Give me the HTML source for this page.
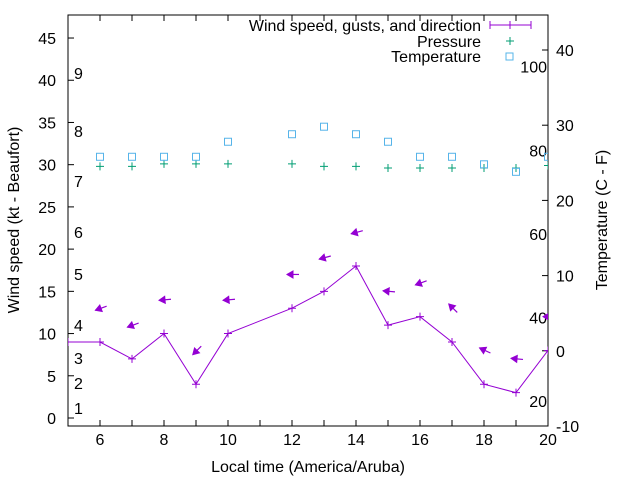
<!DOCTYPE html>
<html><head><meta charset="utf-8"><style>
body{margin:0;background:#fff}
svg text{font-family:"Liberation Sans",sans-serif;font-size:16px;fill:#000}
</style></head><body>
<svg width="640" height="480">
<defs><clipPath id="cp"><rect x="68" y="15" width="480" height="411"/></clipPath></defs>
<g id="axes"></g>
<g id="plot" clip-path="url(#cp)"></g>
<g id="legend">
<text x="481" y="31" text-anchor="end">Wind speed, gusts, and direction</text>
<line x1="490" y1="25" x2="531" y2="25" stroke="#9400d3"/>
<path d="M490 21v8M531 21v8M510 21v8" stroke="#9400d3"/>
<text x="481" y="47" text-anchor="end">Pressure</text>
<path d="M506 41h8M510 37v8" stroke="#009e73"/>
<text x="481" y="62" text-anchor="end">Temperature</text>
<rect x="506" y="53" width="7" height="7" fill="none" stroke="#56b4e9"/>
</g>
</svg>
<script>
const hours=[5,6,7,8,9,10,12,13,14,15,16,17,18,19,20];
const speed=[9,9,7,10,4,10,13,15,18,11,12,9,4,3,8];
const gusts=[null,13,11,14,8,14,17,19,22,15,16,13,8,7,12];
const dirFrom=[null,70,70,85,45,85,90,75,75,95,70,135,115,95,90];
const pressHours=[6,7,8,9,10,12,13,14,15,16,17,18,19,20];
const pressure=[29.8,29.8,30.1,30.1,30.1,30.1,29.8,29.8,29.6,29.6,29.6,29.6,29.6,29.9];
const tempHours=[6,7,8,9,10,12,13,14,15,16,17,18,19,20];
const temperature=[25.8,25.8,25.8,25.8,27.8,28.8,29.8,28.8,27.8,25.8,25.8,24.8,23.8,25.8];
const xTicks=[6,8,10,12,14,16,18,20];
const yTicks=[0,5,10,15,20,25,30,35,40,45];
const y2Ticks=[-10,0,10,20,30,40];
const beaufort=[[1,408],[2,383],[3,358],[4,325],[5,274],[6,232],[7,181],[8,131],[9,73]];
const fahr=[20,40,60,80,100];

const NS='http://www.w3.org/2000/svg';
const X=v=>68+(v-5)*32;
const Y=v=>418-v*8.444;
const Y2=v=>350.8-v*7.52;
function mk(p,tag,at){const e=document.createElementNS(NS,tag);for(const k in at)e.setAttribute(k,at[k]);p.appendChild(e);return e;}
const ax=document.getElementById('axes'),pl=document.getElementById('plot');
const border=mk(ax,'rect',{x:68,y:15,width:480,height:411,fill:'none',stroke:'#000'});


xTicks.forEach(t=>{const x=X(t);
 mk(ax,'path',{d:`M${x} 426v-6M${x} 15v6`,stroke:'#000'});
 const tx=mk(ax,'text',{x:x,y:445,'text-anchor':'middle'});tx.textContent=t;
 
 });
[7,9,11,13,15,17,19].forEach(t=>mk(ax,'path',{d:`M${X(t)} 426v-6M${X(t)} 15v6`,stroke:'#000'}));
yTicks.forEach(t=>{const y=Y(t);
 mk(ax,'path',{d:`M68 ${y}h6`,stroke:'#000'});
 const tx=mk(ax,'text',{x:56,y:y+6,'text-anchor':'end'});tx.textContent=t;
 
 });
y2Ticks.forEach(t=>{const y=Y2(t);
 mk(ax,'path',{d:`M548 ${y}h-6`,stroke:'#000'});
 const tx=mk(ax,'text',{x:556,y:y+6});tx.textContent=t;
 
 });
beaufort.forEach(b=>{const tx=mk(ax,'text',{x:74,y:b[1]+6});tx.textContent=b[0];
 
 });
fahr.forEach(f=>{const tx=mk(ax,'text',{x:547,y:Y2((f-32)/1.8)+6,'text-anchor':'end'});tx.textContent=f;
 
 });
let t=mk(ax,'text',{x:308,y:472,'text-anchor':'middle'});t.textContent='Local time (America/Aruba)';


t=mk(ax,'text',{x:0,y:0,'text-anchor':'middle',transform:'translate(19,220) rotate(-90)'});t.textContent='Wind speed (kt - Beaufort)';


t=mk(ax,'text',{x:0,y:0,'text-anchor':'middle',transform:'translate(607,220) rotate(-90)'});t.textContent='Temperature (C - F)';



const line=mk(pl,'polyline',{points:hours.map((h,i)=>X(h)+','+Y(speed[i])).join(' '),fill:'none',stroke:'#9400d3'});


hours.forEach((h,i)=>{const x=X(h),y=Y(speed[i]);
 const m=mk(pl,'path',{d:`M${x-4} ${y}h8M${x} ${y-4}v8`,stroke:'#9400d3'});
 
 
 if(gusts[i]==null)return;
 const to=(dirFrom[i]+180)*Math.PI/180,dx=Math.sin(to),dy=-Math.cos(to);
 const cx=x+1,cy=Y(gusts[i]),L=6;
 const hx=cx+dx*L,hy=cy+dy*L,tx=cx-dx*L,ty=cy-dy*L;
 const px=-dy,py=dx;
 const g=mk(pl,'g',{});
 
 
 mk(g,'line',{x1:tx,y1:ty,x2:hx,y2:hy,stroke:'#9400d3','stroke-width':1.2});
 const bx=hx-dx*6,by=hy-dy*6;
 mk(g,'polygon',{points:`${hx},${hy} ${bx+px*3.5},${by+py*3.5} ${bx-px*3.5},${by-py*3.5}`,fill:'#9400d3',stroke:'#9400d3'});
});
pressHours.forEach((h,i)=>{const x=X(h),y=Y(pressure[i]);
 const m=mk(pl,'path',{d:`M${x-4} ${y}h8M${x} ${y-4}v8`,stroke:'#009e73'});
 
 });
tempHours.forEach((h,i)=>{const x=X(h),y=Y2(temperature[i]);
 const m=mk(pl,'rect',{x:x-3.5,y:y-3.5,width:7,height:7,fill:'none',stroke:'#56b4e9'});
 
 });
</script>
</body></html>
